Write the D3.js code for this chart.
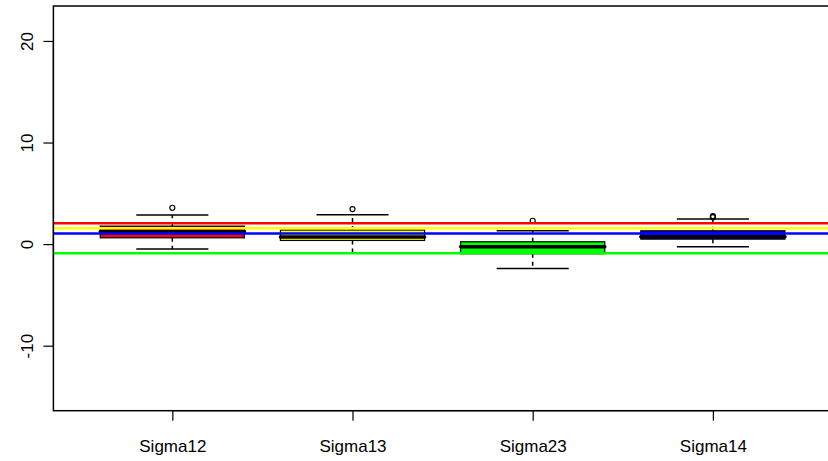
<!DOCTYPE html>
<meta charset="utf-8">
<style>
  body { margin: 0; background: #fff; }
  text { font-family: "Liberation Sans", Arial, sans-serif; }
</style>
<script src="https://d3js.org/d3.v7.min.js"></script>
<div id="chart"></div>
<script>

    // box statistics
    var names = ["Sigma12", "Sigma13", "Sigma23", "Sigma14"];
    var fills = ["#ff0000", "#ffff00", "#00ff00", "#0000ff"];
    var lowWhisker = [-0.48, -0.9, -2.4, -0.27];
    var q1 = [0.62, 0.36, -0.95, 0.49];
    var medians = [1.25, 0.7, -0.27, 0.72];
    var q3 = [1.77, 1.38, 0.23, 1.31];
    var highWhisker = [2.86, 2.89, 1.31, 2.46];
    var outliers = [[3.58], [3.45], [2.3], [2.65, 2.76]];

    // reference lines
    var refValues = [2.05, 1.55, 1.05, -0.9];
    var refColors = ["#ff0000", "#ffff00", "#0000ff", "#00ff00"];

    var yTicks = [-10, 0, 10, 20];

    var width = 828, height = 461;
    var plot = {left: 53.4, right: 831.8, top: 6, bottom: 410.7};

    var svg = d3.select("#chart")
        .append("svg")
            .attr("width", width)
            .attr("height", height);

    var x = d3.scaleLinear()
        .domain([0.34, 4.66])
        .range([plot.left, plot.right]);

    var y = d3.scaleLinear()
        .domain([-16.4, 23.44])
        .range([plot.bottom, plot.top]);

    var boxW = 0.8, capW = 0.4;

    var boxes = names.map(function(n, i) {
        return {name: n, pos: i + 1, fill: fills[i], lo: lowWhisker[i], q1: q1[i],
                med: medians[i], q3: q3[i], hi: highWhisker[i], out: outliers[i]};
    });

    var g = svg.append("g");

    // whiskers (dashed)
    g.selectAll(".whiskLo").data(boxes).enter().append("line")
        .attr("x1", function(d) { return x(d.pos) })
        .attr("x2", function(d) { return x(d.pos) })
        .attr("y1", function(d) { return y(d.q1) })
        .attr("y2", function(d) { return y(d.lo) })
        .attr("stroke", "black").attr("stroke-width", 1.5)
        .attr("stroke-dasharray", "4,4");
    g.selectAll(".whiskHi").data(boxes).enter().append("line")
        .attr("x1", function(d) { return x(d.pos) })
        .attr("x2", function(d) { return x(d.pos) })
        .attr("y1", function(d) { return y(d.q3) })
        .attr("y2", function(d) { return y(d.hi) })
        .attr("stroke", "black").attr("stroke-width", 1.5)
        .attr("stroke-dasharray", "4,4");

    // whisker caps
    ["lo", "hi"].forEach(function(k) {
        g.selectAll(".cap" + k).data(boxes).enter().append("line")
            .attr("x1", function(d) { return x(d.pos - capW / 2) })
            .attr("x2", function(d) { return x(d.pos + capW / 2) })
            .attr("y1", function(d) { return y(d[k]) })
            .attr("y2", function(d) { return y(d[k]) })
            .attr("stroke", "black").attr("stroke-width", 1.5);
    });

    // boxes
    g.selectAll(".box").data(boxes).enter().append("rect")
        .attr("x", function(d) { return x(d.pos - boxW / 2) })
        .attr("width", function(d) { return x(d.pos + boxW / 2) - x(d.pos - boxW / 2) })
        .attr("y", function(d) { return y(d.q3) })
        .attr("height", function(d) { return y(d.q1) - y(d.q3) })
        .attr("fill", function(d) { return d.fill })
        .attr("stroke", "black").attr("stroke-width", 1.2);

    // medians
    g.selectAll(".med").data(boxes).enter().append("line")
        .attr("x1", function(d) { return x(d.pos - boxW / 2) })
        .attr("x2", function(d) { return x(d.pos + boxW / 2) })
        .attr("y1", function(d) { return y(d.med) })
        .attr("y2", function(d) { return y(d.med) })
        .attr("stroke", "black").attr("stroke-width", 3.5)
        .attr("stroke-linecap", "round");

    // outliers
    boxes.forEach(function(b) {
        g.selectAll(null).data(b.out).enter().append("circle")
            .attr("cx", x(b.pos))
            .attr("cy", function(d) { return y(d) })
            .attr("r", 2.5)
            .attr("fill", "none")
            .attr("stroke", "black").attr("stroke-width", 1.2);
    });

    // horizontal reference lines across the plot
    svg.selectAll(".ref").data(refValues).enter().append("line")
        .attr("x1", plot.left)
        .attr("x2", plot.right)
        .attr("y1", function(d) { return y(d) })
        .attr("y2", function(d) { return y(d) })
        .attr("stroke", function(d, i) { return refColors[i] })
        .attr("stroke-width", 2.5);

    // frame
    svg.append("rect")
        .attr("x", plot.left).attr("y", plot.top)
        .attr("width", plot.right - plot.left)
        .attr("height", plot.bottom - plot.top)
        .attr("fill", "none")
        .attr("stroke", "black").attr("stroke-width", 1.5);

    // y axis
    var yAxis = svg.append("g")
        .attr("transform", "translate(" + plot.left + ",0)")
        .call(d3.axisLeft(y).tickValues(yTicks).tickSize(10).tickSizeOuter(0)
            .tickFormat(function(d) { return String(d) }));
    yAxis.select(".domain")
        .attr("d", "M0," + y(-10) + "V" + y(20))
        .attr("stroke-width", 1.2);
    yAxis.selectAll(".tick line").attr("stroke-width", 1.2);
    yAxis.selectAll(".tick text")
        .attr("x", null).attr("dy", null)
        .attr("transform", "translate(-20,0) rotate(-90)")
        .attr("text-anchor", "middle")
        .style("font-size", "17px")
        .style("font-family", "'Liberation Sans', Arial, sans-serif");

    // x axis
    var xAxis = svg.append("g")
        .attr("transform", "translate(0," + plot.bottom + ")")
        .call(d3.axisBottom(x).tickValues([1, 2, 3, 4]).tickSize(10).tickSizeOuter(0)
            .tickFormat(function(d) { return names[d - 1] }));
    xAxis.select(".domain").attr("d", "M" + x(1) + ",0H" + x(4)).attr("stroke-width", 1.2);
    xAxis.selectAll(".tick line").attr("stroke-width", 1.2);
    xAxis.selectAll(".tick text")
        .attr("y", 41).attr("dy", null)
        .style("font-size", "17px")
        .style("font-family", "'Liberation Sans', Arial, sans-serif");

</script>
